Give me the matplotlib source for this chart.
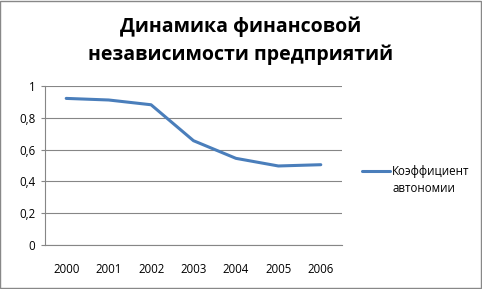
import matplotlib.pyplot as plt
from matplotlib.lines import Line2D
import numpy as np

plt.rcParams['font.family'] = ['Open Sans', 'DejaVu Sans']

years = ["2000", "2001", "2002", "2003", "2004", "2005", "2006"]
autonomy = [0.922, 0.912, 0.882, 0.656, 0.545, 0.497, 0.505]
y_ticks = [0, 0.2, 0.4, 0.6, 0.8, 1]
y_labels = ["0", "0,2", "0,4", "0,6", "0,8", "1"]
legend_lines = ["Коэффициент", "автономии"]

fig = plt.figure(figsize=(4.82, 2.89), dpi=100)
ax = fig.add_axes([45 / 482, 1 - 245 / 289, 297 / 482, 159 / 289])

x = np.arange(len(years))
line, = ax.plot(x, autonomy, color="#4a7ebb", linewidth=2.2, solid_capstyle="round")

ax.set_xlim(-0.5, len(years) - 0.5)
ax.set_ylim(0, 1)
ax.set_yticks(y_ticks)
ax.set_yticklabels(y_labels, fontsize=8.3)
ax.set_xticks(x)
ax.set_xticklabels(years, fontsize=8.3)
ax.tick_params(axis="x", length=0, pad=13)
ax.tick_params(axis="y", length=3, color="#868686", pad=4)
ax.grid(axis="y", color="#868686", linewidth=0.8)
ax.set_axisbelow(True)
for s in ["top", "right"]:
    ax.spines[s].set_visible(False)
for s in ["left", "bottom"]:
    ax.spines[s].set_color("#868686")
    ax.spines[s].set_linewidth(0.8)

fig.text(0.5, 1 - 27 / 289, "Динамика финансовой", ha="center", va="center",
         fontsize=14, fontweight="bold")
fig.text(0.5, 1 - 55 / 289, "независимости предприятий", ha="center", va="center",
         fontsize=14, fontweight="bold")

blank = Line2D([], [], color="none")
fig.legend(handles=[line, blank], labels=legend_lines, loc="center left",
           bbox_to_anchor=(357 / 482, 1 - 180 / 289), frameon=False, fontsize=8.3,
           handlelength=2.5, handletextpad=0.15, labelspacing=0.3, borderaxespad=0)

# chart frame
fig.patches.append(plt.Rectangle((0.001, 0.002), 0.996, 0.995, transform=fig.transFigure,
                                 fill=False, edgecolor="#888888", linewidth=1))

fig.savefig("out.png", dpi=100)
